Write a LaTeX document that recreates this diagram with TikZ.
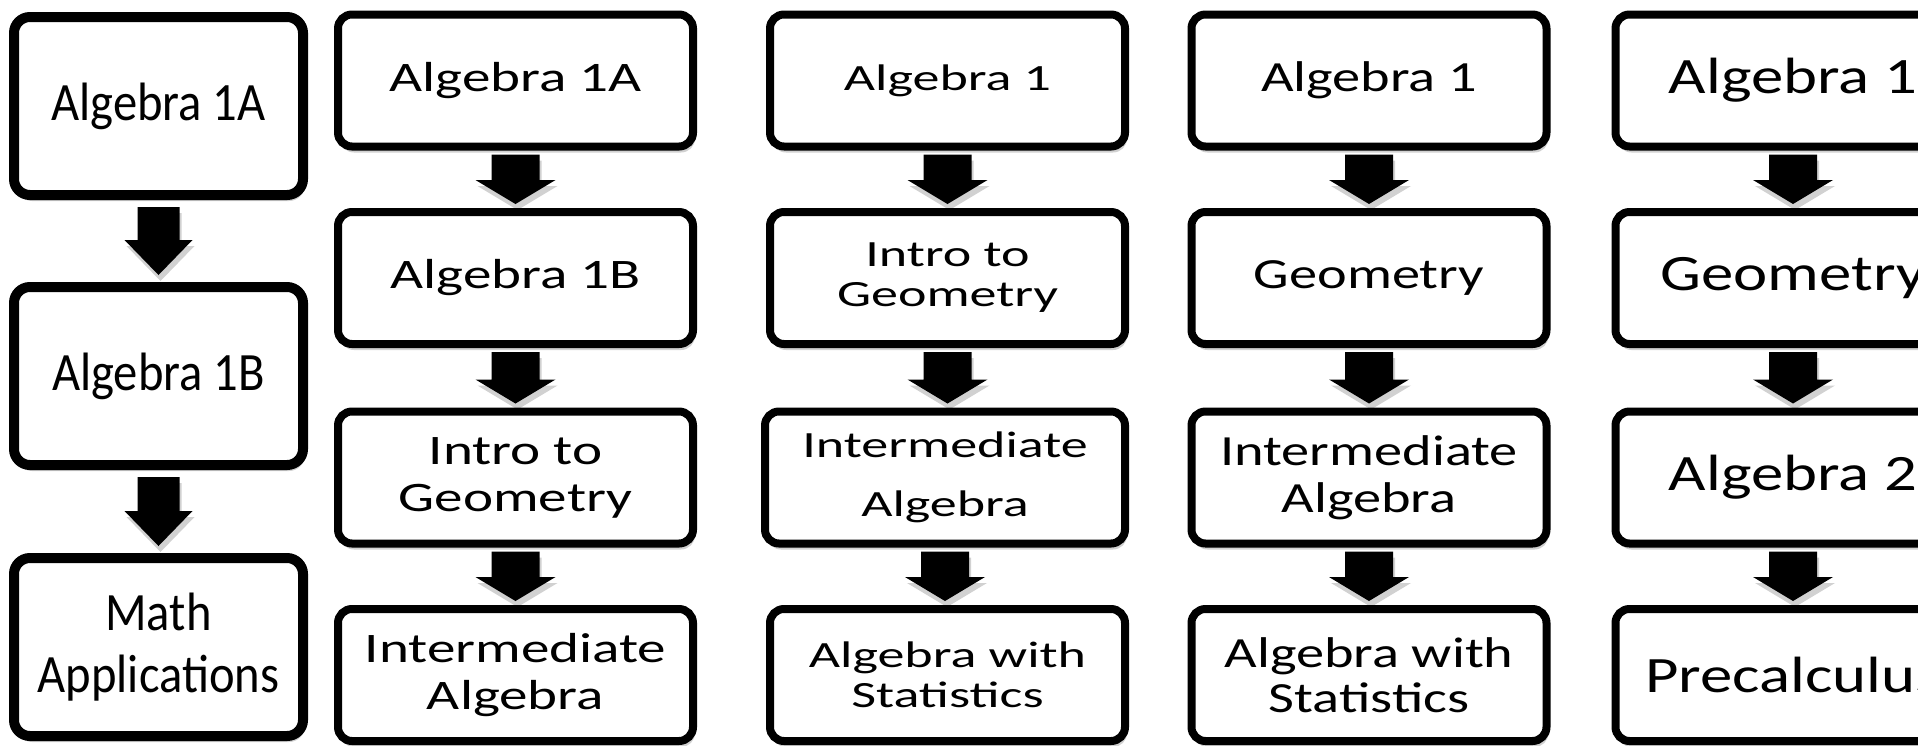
\documentclass[tikz,border=0pt]{standalone}
\usepackage{fontspec}
\setmainfont{Carlito}
\newfontfamily\fA[FakeStretch=0.9]{Carlito}
\newfontfamily\fB[FakeStretch=1.36]{Carlito}
\newfontfamily\fC[FakeStretch=1.46]{Carlito}
\newfontfamily\fD[FakeStretch=1.31]{Carlito}
\newfontfamily\fE[FakeStretch=1.27]{Carlito}
\usetikzlibrary{calc,shadows}
\tikzset{
  shad/.style={drop shadow={shadow xshift=1pt,shadow yshift=-3pt,fill=black,opacity=0.18}},
  boxbase/.style={draw=black, fill=white, shad, align=center, inner sep=0pt, text=black},
  boxA/.style={boxbase, line width=5pt, rounded corners=8pt, minimum width=144.5pt, minimum height=89pt,
    font=\fA\fontsize{27}{31}\selectfont},
  boxR/.style={boxbase, line width=4pt, rounded corners=7pt, minimum width=177.5pt, minimum height=66pt},
  fntB/.style={font=\fB\fontsize{21}{23.5}\selectfont},
  fntC/.style={font=\fC\fontsize{18.5}{20}\selectfont},
  fntD/.style={font=\fD\fontsize{21.5}{23.5}\selectfont},
  fntE/.style={font=\fE\fontsize{25.5}{28}\selectfont},
  arrowfill/.style={fill=black, shad},
}
\newcommand{\blk}[6]{%
  \fill[arrowfill] let \p1=(#1.south), \p2=(#2.north) in
    (\x1-#3,\y1-#6) -- (\x1+#3,\y1-#6) -- (\x1+#3,\y2+#6+#5) -- (\x1+#4,\y2+#6+#5)
    -- (\x1,\y2+#6) -- (\x1-#4,\y2+#6+#5) -- (\x1-#3,\y2+#6+#5) -- cycle;}
\newcommand{\blkA}[2]{\blk{#1}{#2}{10.5pt}{17pt}{17.5pt}{3.5pt}}
\newcommand{\blkR}[2]{\blk{#1}{#2}{12pt}{20pt}{12pt}{2pt}}
\begin{document}
\begin{tikzpicture}[x=0.5pt,y=-0.5pt]
\useasboundingbox (0,0) rectangle (1918,745);
\clip (0,0) rectangle (1918,745);
\fill[white] (0,0) rectangle (1918,745);
% column 0
\node[boxA] (a1) at (158.5,106) {Algebra 1A};
\node[boxA] (a2) at (158.5,376) {Algebra 1B};
\node[boxA] (a3) at (158.5,647) {Math\\Applications};
% column 1
\node[boxR,fntB] (b1) at (515.5,80.5) {Algebra 1A};
\node[boxR,fntB] (b2) at (515.5,278) {Algebra 1B};
\node[boxR,fntB] (b3) at (515.5,477.5) {Intro to\\Geometry};
\node[boxR,fntB] (b4) at (515.5,675) {Intermediate\\Algebra};
% column 2
\node[boxR,fntC] (c1) at (947.5,80.5) {Algebra 1};
\node[boxR,fntC] (c2) at (947.5,278) {Intro to\\Geometry};
\node[boxR,fntC,minimum width=180pt,font=\fC\fontsize{18.5}{29.5}\selectfont] (c3) at (945,477.5) {Intermediate\\Algebra};
\node[boxR,fntC] (c4) at (947.5,675) {Algebra with\\Statistics};
% column 3
\node[boxR,fntD] (d1) at (1369,80.5) {Algebra 1};
\node[boxR,fntD] (d2) at (1369,278) {Geometry};
\node[boxR,fntD] (d3) at (1369,477.5) {Intermediate\\Algebra};
\node[boxR,fntD,font=\fD\fontsize{21.5}{22.5}\selectfont] (d4) at (1369,675) {Algebra with\\Statistics};
% column 4
\node[boxR,fntE] (e1) at (1793,80.5) {Algebra 1};
\node[boxR,fntE] (e2) at (1793,278) {Geometry};
\node[boxR,fntE] (e3) at (1793,477.5) {Algebra 2};
\node[boxR,fntE] (e4) at (1793,675) {Precalculus};
% arrows
\blkA{a1}{a2}\blkA{a2}{a3}
\blkR{b1}{b2}\blkR{b2}{b3}\blkR{b3}{b4}
\blkR{c1}{c2}\blkR{c2}{c3}\blkR{c3}{c4}
\blkR{d1}{d2}\blkR{d2}{d3}\blkR{d3}{d4}
\blkR{e1}{e2}\blkR{e2}{e3}\blkR{e3}{e4}
\end{tikzpicture}
\end{document}
